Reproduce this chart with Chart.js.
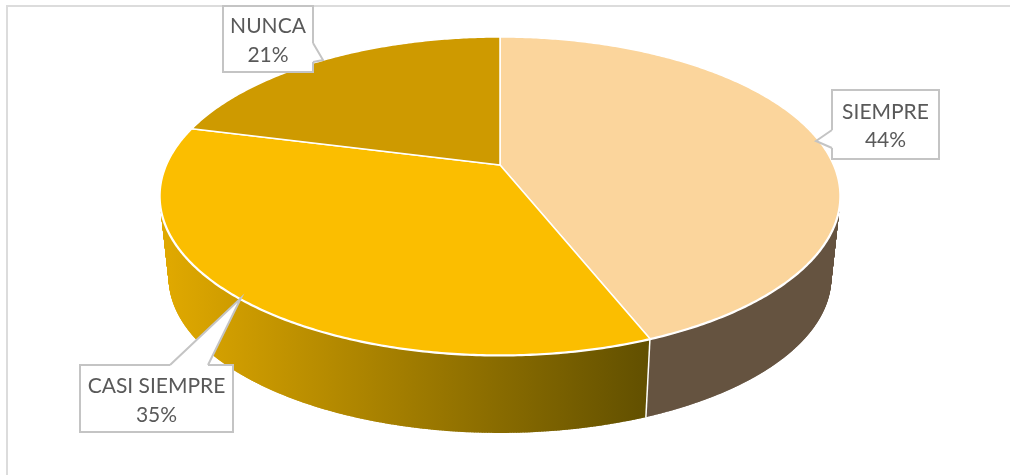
<!DOCTYPE html>
<html>
<head>
<meta charset="utf-8">
<title>Pie 3D</title>
<script src="https://cdn.jsdelivr.net/npm/chart.js@4/dist/chart.umd.js"></script>
<style>
    html, body { margin: 0; padding: 0; background: #fff; }
    #chart { display: block; }
</style>
</head>
<body>
<canvas id="chart" width="1010" height="475"></canvas>
<script>
const categories = ['SIEMPRE', 'CASI SIEMPRE', 'NUNCA'];
const shares = [44, 35, 21];

const topColors = ['#fbd59c', '#fbbe00', '#ce9a00'];

// tilted disc: apex of the slices, radii, perspective strength
const disc = { x: 500, y: 165, a: 333.5, b: 153, k: 0.195 };
const base = { y: 248, scale: 0.973 };

// box, pointer roots and tip of every callout, same order as categories
const callouts = [
    { box: [832, 90, 939, 159], pointer: [[832, 130], [816, 141], [832, 148]], lines: [119, 147] },
    { box: [80, 365, 233, 432], pointer: [[208, 365], [241, 298], [170, 365]], lines: [393, 422] },
    { box: [223, 6, 313, 72], pointer: [[313, 43], [323, 60], [313, 62]], lines: [33, 62] }
];

function project(angle, onBase) {
    const u = Math.cos(angle), v = Math.sin(angle);
    const d = 1 - disc.k * v;
    const s = onBase ? base.scale : 1;
    const cy = onBase ? base.y : disc.y;
    return [disc.x + s * disc.a * u / d, cy + s * disc.b * v / d];
}

function traceRim(ctx, from, to, onBase, move) {
    const steps = Math.max(2, Math.ceil(Math.abs(to - from) / 0.01));
    for (let i = 0; i <= steps; i++) {
        const p = project(from + (to - from) * i / steps, onBase);
        if (i === 0 && move) ctx.moveTo(p[0], p[1]);
        else ctx.lineTo(p[0], p[1]);
    }
}

function wallFill(ctx, index) {
    if (index === 0) return '#655340';
    if (index === 2) return '#a17800';
    const g = ctx.createLinearGradient(170, 0, 646, 0);
    g.addColorStop(0, '#dfa800');
    g.addColorStop(1, '#625000');
    return g;
}

function drawWall(ctx, arc, index) {
    const paint = wallFill(ctx, index);
    ctx.beginPath();
    traceRim(ctx, arc.startAngle, arc.endAngle, false, true);
    traceRim(ctx, arc.endAngle, arc.startAngle, true, false);
    ctx.closePath();
    ctx.fillStyle = paint;
    ctx.fill();

    // rulings fill the sliver where the wall turns away at the silhouette
    ctx.beginPath();
    for (let a = arc.startAngle; a < arc.endAngle; a += 0.004) {
        const p = project(a, false), q = project(a, true);
        ctx.moveTo(p[0], p[1]);
        ctx.lineTo(q[0], q[1]);
    }
    ctx.strokeStyle = paint;
    ctx.lineWidth = 1;
    ctx.stroke();
}

// replaces the flat arcs with a disc seen in perspective
const disc3d = {
    id: 'disc3d',
    beforeDatasetDraw(chart, args) {
        const ctx = chart.ctx;
        const arcs = args.meta.data;
        ctx.save();
        ctx.lineJoin = 'round';

        // the far wall first, the two front ones over it
        drawWall(ctx, arcs[2], 2);
        drawWall(ctx, arcs[0], 0);
        drawWall(ctx, arcs[1], 1);

        // seam between the two walls facing the viewer
        const top = project(arcs[0].endAngle, false);
        const bottom = project(arcs[0].endAngle, true);
        ctx.beginPath();
        ctx.moveTo(top[0], top[1]);
        ctx.lineTo(bottom[0], bottom[1]);
        ctx.strokeStyle = '#fff';
        ctx.lineWidth = 1.5;
        ctx.stroke();

        // white rim under the caps keeps the walls from poking out
        ctx.beginPath();
        traceRim(ctx, 0, Math.PI * 2, false, true);
        ctx.closePath();
        ctx.strokeStyle = '#fff';
        ctx.lineWidth = 3;
        ctx.stroke();

        arcs.forEach((arc, i) => {
            ctx.beginPath();
            ctx.moveTo(disc.x, disc.y);
            traceRim(ctx, arc.startAngle, arc.endAngle, false, false);
            ctx.closePath();
            ctx.fillStyle = topColors[i];
            ctx.fill();
            ctx.strokeStyle = '#fff';
            ctx.lineWidth = 1.5;
            ctx.stroke();
        });
        ctx.restore();
        return false;
    },
    afterDatasetsDraw(chart) {
        const ctx = chart.ctx;
        ctx.save();
        ctx.strokeStyle = '#dcdcdc';
        ctx.lineWidth = 2;
        ctx.beginPath();
        ctx.moveTo(7, 475);
        ctx.lineTo(7, 6);
        ctx.lineTo(1010, 6);
        ctx.stroke();

        ctx.textAlign = 'center';
        ctx.textBaseline = 'alphabetic';
        ctx.font = '21px Lato';
        callouts.forEach((c, i) => {
            const [x1, y1, x2, y2] = c.box;
            const [r1, tip, r2] = c.pointer;
            ctx.beginPath();
            ctx.rect(x1, y1, x2 - x1, y2 - y1);
            ctx.fillStyle = '#fff';
            ctx.fill();
            ctx.strokeStyle = '#c4c4c4';
            ctx.lineWidth = 2;
            ctx.stroke();

            // open the box edge where the pointer leaves it
            ctx.beginPath();
            ctx.moveTo(r1[0], r1[1]);
            ctx.lineTo(tip[0], tip[1]);
            ctx.lineTo(r2[0], r2[1]);
            ctx.closePath();
            ctx.fill();
            ctx.strokeStyle = '#fff';
            ctx.lineWidth = 2.5;
            ctx.beginPath();
            ctx.moveTo(r1[0], r1[1]);
            ctx.lineTo(r2[0], r2[1]);
            ctx.stroke();

            ctx.strokeStyle = '#c4c4c4';
            ctx.lineWidth = 2;
            ctx.beginPath();
            ctx.moveTo(r1[0], r1[1]);
            ctx.lineTo(tip[0], tip[1]);
            ctx.lineTo(r2[0], r2[1]);
            ctx.stroke();

            ctx.fillStyle = '#595959';
            const cx = (x1 + x2) / 2;
            ctx.fillText(categories[i], cx, c.lines[0]);
            ctx.fillText(shares[i] + '%', cx, c.lines[1]);
        });
        ctx.restore();
    }
};

new Chart(document.getElementById('chart'), {
    type: 'pie',
    data: {
        labels: categories,
        datasets: [{ data: shares, backgroundColor: topColors }]
    },
    options: {
        responsive: false,
        animation: false,
        plugins: { legend: { display: false }, tooltip: { enabled: false } }
    },
    plugins: [disc3d]
});
</script>
</body>
</html>
